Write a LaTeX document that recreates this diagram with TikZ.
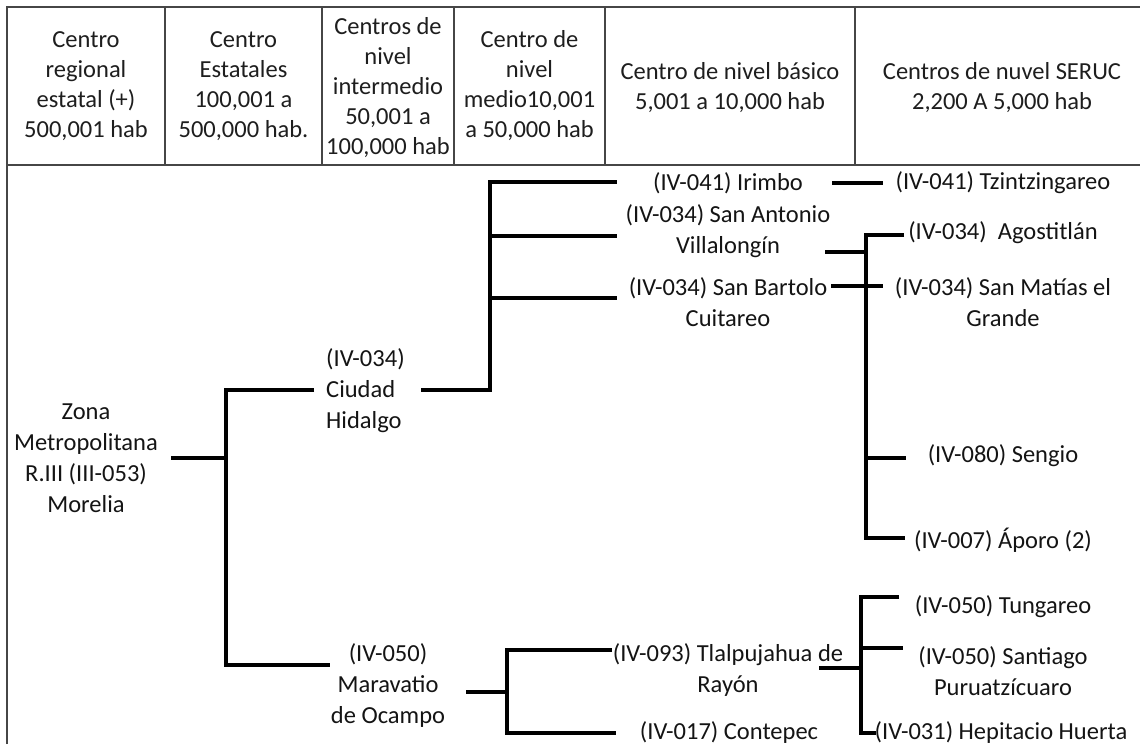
\documentclass[tikz,border=0pt]{standalone}
\usepackage{fontspec}
\setmainfont{Carlito}
\begin{document}
\begin{tikzpicture}[x=1pt,y=-1pt,
  grid/.style={draw={rgb,255:red,70;green,70;blue,70},line width=1.3pt},
  conn/.style={draw=black,line width=4pt},
  hdr/.style={align=center,inner sep=0pt,text={rgb,255:red,30;green,30;blue,30},font=\fontsize{24.5}{30}\selectfont},
  lbl/.style={align=center,inner sep=0pt,text={rgb,255:red,20;green,20;blue,20},font=\fontsize{24.5}{31}\selectfont}]
\useasboundingbox[fill=white] (0,0) rectangle (1140,744);
% table
\draw[grid] (7,744) -- (7,7) -- (1140,7);
\draw[grid] (7,165) -- (1140,165);
\foreach \xx in {165,322,454,605,855} \draw[grid] (\xx,7) -- (\xx,165);
% header
\node[hdr] (h1) at (86,86) {Centro\\regional\\estatal (+)\\500,001 hab};
\node[hdr] (h2) at (243.5,86) {Centro\\Estatales\\100,001 a\\500,000 hab.};
\node[hdr] (h3) at (388,88) {Centros de\\nivel\\intermedio\\50,001 a\\100,000 hab};
\node[hdr] (h4) at (529.5,86) {Centro de\\nivel\\medio10,001\\a 50,000 hab};
\node[hdr] (h5) at (730,88) {Centro de nivel básico\\5,001 a 10,000 hab};
\node[hdr] (h6) at (1002,88) {Centros de nuvel SERUC\\2,200 A 5,000 hab};
% tree labels
\node[lbl] (mor) at (86,458) {Zona\\Metropolitana\\R.III (III-053)\\Morelia};
\node[lbl,align=left,anchor=west] (ciu) at (326,391) {(IV-034)\\Ciudad\\Hidalgo};
\node[lbl] (mar) at (388,686) {(IV-050)\\Maravatio\\de Ocampo};
\node[lbl] (iri) at (728,183) {(IV-041) Irimbo};
\node[lbl] (sant) at (728,231) {(IV-034) San Antonio\\Villalongín};
\node[lbl] (sbar) at (728,302) {(IV-034) San Bartolo\\Cuitareo};
\node[lbl] (tlal) at (728,670) {(IV-093) Tlalpujahua de\\Rayón};
\node[lbl] (cont) at (729,733) {(IV-017) Contepec};
\node[lbl] (tzi) at (1003,183) {(IV-041) Tzintzingareo};
\node[lbl] (ago) at (1003,233) {(IV-034)\ \ Agostitlán};
\node[lbl] (smat) at (1003,302) {(IV-034) San Matías el\\Grande};
\node[lbl] (sen) at (1003,456) {(IV-080) Sengio};
\node[lbl] (apo) at (1003,540) {(IV-007) Áporo (2)};
\node[lbl] (tun) at (1003,607) {(IV-050) Tungareo};
\node[lbl] (stg) at (1003,671) {(IV-050) Santiago\\Puruatzícuaro};
\node[lbl] (hep) at (1001,733) {(IV-031) Hepitacio Huerta};
% connector end points
\coordinate (morR) at (171,458);
\coordinate (ciuL) at (314,390);
\coordinate (marL) at (330,665);
\coordinate (ciuR) at (421,390);
\coordinate (iriL) at (617,182);
\coordinate (santL) at (617,236);
\coordinate (sbarL) at (617,298);
\coordinate (iriR) at (832,183);
\coordinate (tziL) at (883,183);
\coordinate (santR) at (825,252);
\coordinate (sbarR) at (831,286);
\coordinate (agoL) at (904,235);
\coordinate (smatL) at (883,286);
\coordinate (senL) at (906,458);
\coordinate (apoL) at (905,538);
\coordinate (marR) at (466,692);
\coordinate (tlalL) at (612,650);
\coordinate (contL) at (616,733);
\coordinate (tlalR) at (819,668);
\coordinate (tunL) at (899,597);
\coordinate (stgL) at (903,648);
\coordinate (hepL) at (876,733);
% connectors
\draw[conn] (morR) -- (226,458);
\draw[conn] (ciuL) -| (226,458) |- (marL);
\draw[conn] (ciuR) -| (iriL -| 490,0) -- (iriL);
\draw[conn] (490,236) -- (santL);
\draw[conn] (490,298) -- (sbarL);
\draw[conn] (iriR) -- (tziL);
\draw[conn] (santR) -- (866,252);
\draw[conn] (sbarR) -- (smatL);
\draw[conn] (agoL) -| (866,538) -- (apoL);
\draw[conn] (866,458) -- (senL);
\draw[conn] (marR) -- (507,692);
\draw[conn] (tlalL) -| (507,733) -- (contL);
\draw[conn] (tlalR) -- (861,668);
\draw[conn] (tunL) -| (861,733) -- (hepL);
\draw[conn] (861,648) -- (stgL);
\end{tikzpicture}
\end{document}
